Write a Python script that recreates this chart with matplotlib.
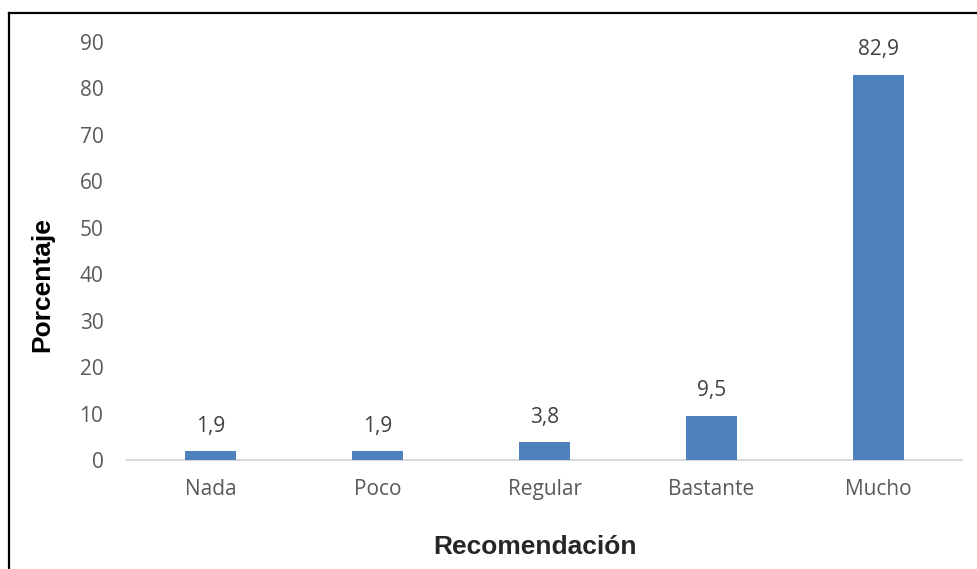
import matplotlib.pyplot as plt
from matplotlib.lines import Line2D

categories = ["Nada", "Poco", "Regular", "Bastante", "Mucho"]
values = [1.9, 1.9, 3.8, 9.5, 82.9]
labels = ["1,9", "1,9", "3,8", "9,5", "82,9"]
yticks = [0, 10, 20, 30, 40, 50, 60, 70, 80, 90]

W, H = 978, 569
fig = plt.figure(figsize=(W / 100, H / 100), dpi=100)
ax = fig.add_axes([127 / W, 1 - 460 / H, (962 - 127) / W, (460 - 42) / H])

txt = "#595959"
font = "Open Sans"

x = range(len(categories))
ax.bar(x, values, width=0.31, color="#4F81BD", zorder=3)
ax.set_xlim(-0.5, len(categories) - 0.5)
ax.set_ylim(0, 90)
ax.set_yticks(yticks)
ax.set_yticklabels([str(t) for t in yticks], fontfamily=font, fontsize=15, color=txt)
ax.set_xticks(list(x))
ax.set_xticklabels(categories, fontfamily=font, fontsize=15, color=txt)
ax.tick_params(axis="y", length=0, pad=17)
ax.tick_params(axis="x", length=0, pad=14)

for s in ["top", "right", "left"]:
    ax.spines[s].set_visible(False)
ax.spines["bottom"].set_color("#D9D9D9")
ax.spines["bottom"].set_linewidth(1.5)

for i, (v, lab) in enumerate(zip(values, labels)):
    ax.annotate(lab, (i, v), xytext=(0, 18), textcoords="offset points",
                ha="center", va="center", fontfamily=font, fontsize=15, color="#404040")

fig.text(42 / W, 1 - 285 / H, "Porcentaje", rotation=90, ha="center", va="center",
         fontfamily="Liberation Sans", fontweight="bold", fontsize=19, color="#000000")
fig.text(535 / W, 1 - 547 / H, "Recomendación", ha="center", va="center",
         fontfamily="Liberation Sans", fontweight="bold", fontsize=19, color="#262626")

# outer frame (only left and top edges are visible in the crop)
fig.add_artist(Line2D([9 / W, 9 / W], [0, 1 - 13 / H], transform=fig.transFigure, color="black", lw=1.6))
fig.add_artist(Line2D([9 / W, 1], [1 - 13 / H, 1 - 13 / H], transform=fig.transFigure, color="black", lw=1.6))

fig.savefig("out.png", dpi=100)
